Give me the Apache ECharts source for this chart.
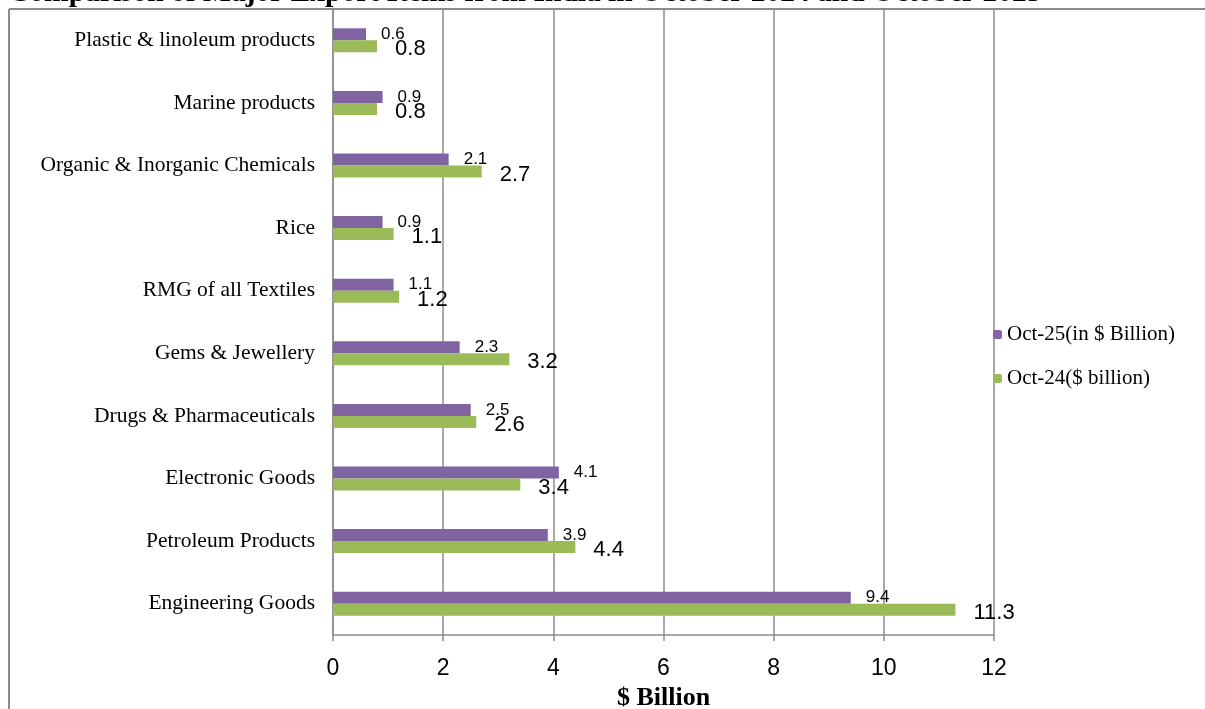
<!DOCTYPE html>
<html>
<head>
<meta charset="utf-8">
<script src="https://cdn.jsdelivr.net/npm/echarts@6/dist/echarts.min.js"></script>
<style>
html,body{margin:0;padding:0;background:#fff;}
#c{width:1205px;height:709px;}
</style>
</head>
<body>
<div id="c"></div>
<script>
const categories = ["Engineering Goods","Petroleum Products","Electronic Goods","Drugs & Pharmaceuticals","Gems & Jewellery","RMG of all Textiles","Rice","Organic & Inorganic Chemicals","Marine products","Plastic & linoleum products"];
const oct25 = [9.4,3.9,4.1,2.5,2.3,1.1,0.9,2.1,0.9,0.6];
const oct24 = [11.3,4.4,3.4,2.6,3.2,1.2,1.1,2.7,0.8,0.8];
const xTicks = [0,2,4,6,8,10,12];

const chart = echarts.init(document.getElementById('c'), null, {renderer:'canvas'});
chart.setOption({
  animation:false,
  backgroundColor:'#fff',
  title:{
    text:'Comparison of Major Export Items from India in October 2024 and October 2025',
    left:8, top:-22, padding:0,
    textStyle:{fontFamily:'Liberation Serif',fontWeight:'bold',fontSize:29.5,color:'#000'}
  },
  graphic:[
    {type:'line',shape:{x1:9,y1:9,x2:1205,y2:9},style:{stroke:'#8c8c8c',lineWidth:2},z:0},
    {type:'line',shape:{x1:9,y1:9,x2:9,y2:709},style:{stroke:'#8c8c8c',lineWidth:2},z:0}
  ],
  legend:{
    orient:'vertical', left:993, top:324, padding:0,
    itemWidth:9, itemHeight:9, itemGap:23,
    data:['Oct-25(in $ Billion)','Oct-24($ billion)'],
    textStyle:{fontFamily:'Liberation Serif',fontSize:21,color:'#000'}
  },
  grid:{left:333,right:211,top:9,bottom:74,outerBoundsMode:'none',containLabel:false},
  xAxis:{
    type:'value',min:xTicks[0],max:xTicks[xTicks.length-1],interval:2,
    name:'$ Billion',nameLocation:'middle',nameGap:44,
    nameTextStyle:{fontFamily:'Liberation Serif',fontWeight:'bold',fontSize:26,color:'#000'},
    axisLine:{show:true,lineStyle:{color:'#8c8c8c',width:1.5}},
    axisTick:{show:true,length:6,lineStyle:{color:'#8c8c8c',width:1.5}},
    axisLabel:{fontFamily:'Liberation Sans',fontSize:23,color:'#000',margin:22},
    splitLine:{show:true,lineStyle:{color:'#8c8c8c',width:1.5}}
  },
  yAxis:{
    type:'category',data:categories,
    axisLine:{show:true,lineStyle:{color:'#8c8c8c',width:1.5}},
    axisTick:{show:false},
    axisLabel:{fontFamily:'Liberation Serif',fontSize:21.5,color:'#000',margin:18}
  },
  series:[
    {
      name:'Oct-25(in $ Billion)',type:'bar',data:oct25,barWidth:12,barGap:'0%',
      itemStyle:{color:'#8064A2'},
      label:{show:true,position:'right',distance:15,offset:[0,0],fontFamily:'Liberation Sans',fontSize:17,color:'#000'}
    },
    {
      name:'Oct-24($ billion)',type:'bar',data:oct24,barWidth:12,barGap:'0%',
      itemStyle:{color:'#9BBB59'},
      label:{show:true,position:'right',distance:18,offset:[0,3],fontFamily:'Liberation Sans',fontSize:22,color:'#000'}
    }
  ]
});
</script>
</body>
</html>
